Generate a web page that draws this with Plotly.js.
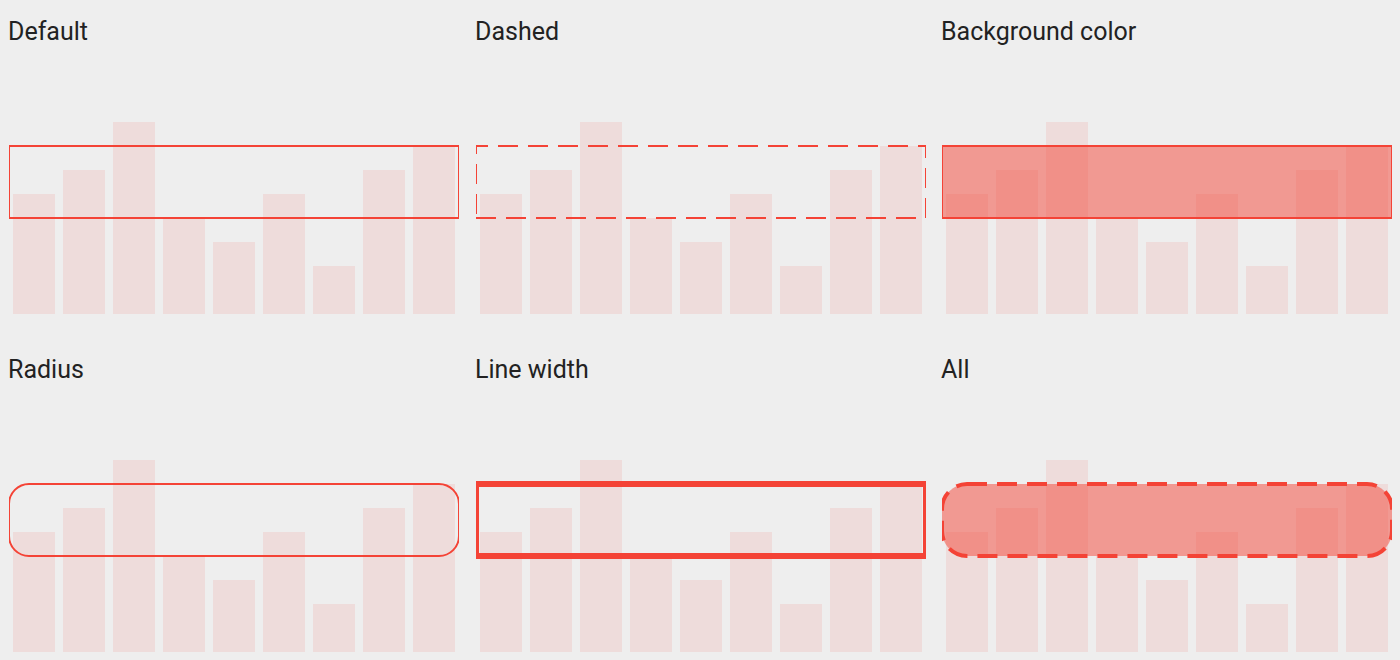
<!DOCTYPE html>
<html>
<head>
<meta charset="utf-8">
<script src="https://cdn.plot.ly/plotly-3.0.1.min.js"></script>
<style>
html,body{margin:0;padding:0;background:#eeeeee;}
#chart{width:1400px;height:660px;}
</style>
</head>
<body>
<div id="chart"></div>
<script>
// ---- data ----
const categories = ['1','2','3','4','5','6','7','8','9'];
const values = [5, 6, 8, 4, 3, 5, 2, 6, 7];
const panelTitles = ['Default', 'Dashed', 'Background color', 'Radius', 'Line width', 'All'];
const boxLow = 4;
const boxHigh = 7;
const yMin = 0;
const yMax = 10;

// ---- layout geometry (pixels) ----
const W = 1400, H = 660;
const colPx = [[9, 459], [476, 926], [942, 1392]];
const rowPx = [[74, 314], [412, 652]]; // top, bottom in screen px
const RED = '#f44336';

// box styles per panel
const styles = [
  {width: 2, dash: 'solid', fill: 'rgba(0,0,0,0)', radius: 0},
  {width: 2, dash: '20px,10px', fill: 'rgba(0,0,0,0)', radius: 0},
  {width: 2, dash: 'solid', fill: 'rgba(244,67,54,0.5)', radius: 0},
  {width: 2, dash: 'solid', fill: 'rgba(0,0,0,0)', radius: 20},
  {width: 6, dash: 'solid', fill: 'rgba(0,0,0,0)', radius: 0},
  {width: 4, dash: '20px,10px', fill: 'rgba(244,67,54,0.5)', radius: 25}
];

const traces = [];
const layout = {
  width: W, height: H,
  margin: {l: 0, r: 0, t: 0, b: 0},
  paper_bgcolor: '#eeeeee',
  plot_bgcolor: '#eeeeee',
  showlegend: false,
  bargap: 0.16,
  font: {family: 'Roboto, sans-serif', color: '#222222'},
  shapes: [],
  annotations: []
};

const xMin = -0.5, xMax = categories.length - 0.5;

function roundedPath(x0, x1, y0, y1, rx, ry) {
  const k = 0.5523;
  const p = [];
  p.push('M' + (x0 + rx) + ',' + y1);
  p.push('L' + (x1 - rx) + ',' + y1);
  p.push('C' + (x1 - rx + k * rx) + ',' + y1 + ' ' + x1 + ',' + (y1 - ry + k * ry) + ' ' + x1 + ',' + (y1 - ry));
  p.push('L' + x1 + ',' + (y0 + ry));
  p.push('C' + x1 + ',' + (y0 + ry - k * ry) + ' ' + (x1 - rx + k * rx) + ',' + y0 + ' ' + (x1 - rx) + ',' + y0);
  p.push('L' + (x0 + rx) + ',' + y0);
  p.push('C' + (x0 + rx - k * rx) + ',' + y0 + ' ' + x0 + ',' + (y0 + ry - k * ry) + ' ' + x0 + ',' + (y0 + ry));
  p.push('L' + x0 + ',' + (y1 - ry));
  p.push('C' + x0 + ',' + (y1 - ry + k * ry) + ' ' + (x0 + rx - k * rx) + ',' + y1 + ' ' + (x0 + rx) + ',' + y1);
  p.push('Z');
  return p.join(' ');
}

for (let i = 0; i < 6; i++) {
  const row = Math.floor(i / 3), col = i % 3;
  const n = i + 1;
  const xa = n === 1 ? 'x' : 'x' + n;
  const ya = n === 1 ? 'y' : 'y' + n;
  const xKey = n === 1 ? 'xaxis' : 'xaxis' + n;
  const yKey = n === 1 ? 'yaxis' : 'yaxis' + n;
  const [cx0, cx1] = colPx[col];
  const [ry0, ry1] = rowPx[row];

  traces.push({
    type: 'bar', x: categories, y: values, xaxis: xa, yaxis: ya,
    marker: {color: 'rgba(244,67,54,0.1)', line: {width: 0}},
    hoverinfo: 'none'
  });

  layout[xKey] = {
    domain: [cx0 / W, cx1 / W], anchor: ya, type: 'category',
    range: [xMin, xMax], showgrid: false, zeroline: false,
    showticklabels: false, ticks: '', showline: false, fixedrange: true
  };
  layout[yKey] = {
    domain: [(H - ry1) / H, (H - ry0) / H], anchor: xa,
    range: [yMin, yMax], showgrid: false, zeroline: false,
    showticklabels: false, ticks: '', showline: false, fixedrange: true
  };

  const st = styles[i];
  const shape = {
    xref: xa, yref: ya, layer: 'above',
    line: {color: RED, width: st.width, dash: st.dash},
    fillcolor: st.fill
  };
  if (st.radius > 0) {
    const pxPerX = (cx1 - cx0) / (xMax - xMin);
    const pxPerY = (ry1 - ry0) / (yMax - yMin);
    shape.type = 'path';
    shape.path = roundedPath(xMin, xMax, boxLow, boxHigh, st.radius / pxPerX, st.radius / pxPerY);
  } else {
    shape.type = 'rect';
    shape.x0 = xMin; shape.x1 = xMax; shape.y0 = boxLow; shape.y1 = boxHigh;
  }
  layout.shapes.push(shape);

  layout.annotations.push({
    text: panelTitles[i], xref: 'paper', yref: 'paper',
    x: (cx0 - 3) / W, y: (H - (row === 0 ? 31 : 369)) / H,
    xanchor: 'left', yanchor: 'middle', showarrow: false,
    font: {size: 25, color: '#222222', family: 'Roboto, sans-serif'}
  });
}

Plotly.newPlot('chart', traces, layout, {displayModeBar: false, staticPlot: true});
</script>
</body>
</html>
